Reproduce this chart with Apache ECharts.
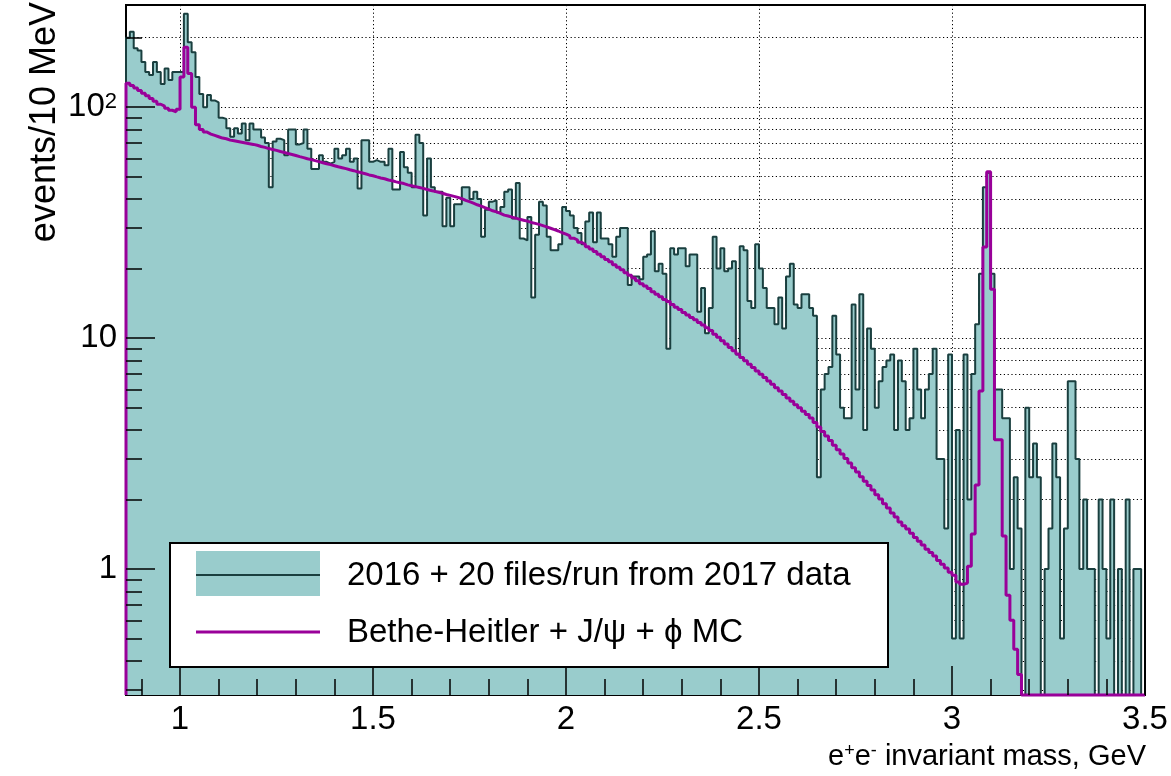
<!DOCTYPE html>
<html><head><meta charset="utf-8">
<script src="https://cdn.jsdelivr.net/npm/echarts@6/dist/echarts.min.js"></script>
<style>html,body{margin:0;padding:0;background:#fff}#c{width:1171px;height:776px}</style>
</head><body><div id="c"></div>
<script>
// ---- axis ranges / binning ----
const BIN_START = 0.86, BIN_WIDTH = 0.01;
const X_MIN = 0.86, X_MAX = 3.5;
const Y_MIN = 0.285, Y_MAX = 277;

// ---- ticks & labels ----
const xMajorTicks = [1, 1.5, 2, 2.5, 3, 3.5];
const xTickLabels = ['1', '1.5', '2', '2.5', '3', '3.5'];
const xMinorTicks = [0.9, 1.1, 1.2, 1.3, 1.4, 1.6, 1.7, 1.8, 1.9, 2.1, 2.2, 2.3, 2.4, 2.6, 2.7, 2.8, 2.9, 3.1, 3.2, 3.3, 3.4];
const yMajorTicks = [1, 10, 100];
const yTickLabels = ['1', '10', '10^2'];
const yMinorTicks = [0.3, 0.4, 0.5, 0.6, 0.7, 0.8, 0.9, 2, 3, 4, 5, 6, 7, 8, 9, 20, 30, 40, 50, 60, 70, 80, 90, 200];
const xSplitValues = [1, 1.5, 2, 2.5, 3];

// ---- data: events / 10 MeV, bins from 0.86 GeV ----
const dataCounts = [
  200, 212, 180, 176, 157, 142, 138, 157, 142, 126,
  147, 131, 142, 142, 142, 254, 191, 173, 135, 114,
  100, 113, 107, 105, 90, 89, 81, 74.5, 81, 77,
  85, 72, 85, 80, 80, 74, 70, 45, 71, 73,
  72, 62, 80, 80, 69, 70, 80, 66, 54, 54,
  62, 58, 57, 58, 66, 60, 62, 66, 58, 60,
  44.5, 72, 72, 58, 59, 58, 58, 56, 66, 44,
  44, 64, 55, 52, 45, 76, 70, 34, 60, 45,
  43, 43, 30.5, 40.5, 30.5, 38, 38, 45, 45, 40,
  43, 40, 27.5, 36, 39, 39.5, 35, 37, 43, 44,
  33, 47, 27, 26.5, 33.5, 15, 28, 39, 37.5, 27.5,
  24, 24, 25.5, 37, 35.5, 34, 30, 28.5, 25.5, 32,
  35, 26, 35, 27, 27, 25.5, 22.5, 27.5, 30, 30,
  17, 18.5, 18.5, 18, 22.5, 23, 29, 19.5, 21, 19,
  9, 24.5, 23, 24.5, 24.5, 20.5, 23, 23, 13, 16.5,
  10.5, 13.5, 27.5, 20, 24.5, 19.5, 20, 21.5, 8.5, 25,
  24, 14.5, 13.5, 25.5, 20, 16.5, 13.5, 13.5, 11.5, 15,
  11, 18.5, 21, 14, 13.5, 15.5, 15.5, 13.5, 12.5, 2.5,
  6, 7, 7.5, 12.5, 8.5, 5, 4.5, 4.5, 14, 6,
  15.5, 4, 11, 9, 5, 6.5, 7.5, 8, 8.5, 4,
  8, 6.5, 4, 4.5, 9, 6, 4.5, 6, 7, 9,
  3, 3, 1.5, 8.5, 0.5, 4, 0.5, 8.5, 2, 7,
  11.5, 19, 45, 52, 19, 6, 6, 4.5, 4.5, 1,
  2.5, 1.5, 0, 5, 2.5, 3.5, 2.5, 0, 1, 1.5,
  3.5, 2.5, 0.5, 1.5, 6.5, 6.5, 3, 1, 2, 1,
  1, 0, 2, 1, 0.5, 2, 0, 1, 0, 2,
  0, 1, 1, 0
];

// ---- MC: Bethe-Heitler + J/psi + phi ----
const mcCounts = [
  127, 124, 121, 118, 115, 112, 109, 106, 103, 101,
  99, 97, 95.5, 98, 135, 182, 140, 100, 84, 80,
  78, 76.5, 75.5, 74.5, 73.5, 73, 72, 71.5, 71, 70.5,
  70, 69.5, 69, 68.4, 67.6, 67, 66.2, 65.6, 65, 64.3,
  63.7, 63, 62.4, 61.8, 61.1, 60.5, 59.8, 59.3, 58.7, 58.1,
  57.5, 56.9, 56.4, 55.8, 55.2, 54.7, 54.2, 53.6, 53.1, 52.5,
  52, 51.5, 50.9, 50.5, 49.9, 49.4, 49, 48.4, 48, 47.5,
  47.1, 46.7, 46.1, 45.7, 45.3, 44.9, 44.5, 44, 43.6, 43.2,
  42.8, 42.4, 41.9, 41.5, 41.1, 40.7, 40.2, 39.5, 39, 38.4,
  37.8, 37.3, 36.7, 36.2, 35.6, 35.2, 34.7, 34.1, 33.8, 33.4,
  33.1, 32.7, 32.4, 32.1, 31.7, 31.4, 31.1, 30.7, 30.3, 29.9,
  29.5, 29.1, 28.6, 28.2, 27.7, 27.1, 26.6, 26, 25.5, 24.9,
  24.3, 23.7, 23.1, 22.5, 21.9, 21.4, 20.8, 20.3, 19.8, 19.2,
  18.7, 18.2, 17.7, 17.2, 16.8, 16.4, 15.9, 15.5, 15.1, 14.7,
  14.4, 14, 13.6, 13.3, 12.9, 12.6, 12.3, 12, 11.7, 11.4,
  11.1, 10.8, 10.4, 10.1, 9.75, 9.44, 9.12, 8.81, 8.53, 8.24,
  7.98, 7.71, 7.46, 7.21, 6.97, 6.75, 6.52, 6.31, 6.1, 5.9,
  5.7, 5.51, 5.33, 5.15, 4.99, 4.82, 4.67, 4.51, 4.31, 4.12,
  3.94, 3.77, 3.6, 3.44, 3.29, 3.15, 3.01, 2.88, 2.75, 2.63,
  2.51, 2.4, 2.3, 2.2, 2.1, 2.01, 1.92, 1.84, 1.75, 1.68,
  1.6, 1.54, 1.49, 1.43, 1.37, 1.32, 1.27, 1.22, 1.18, 1.14,
  1.09, 1.05, 1.01, 0.97, 0.94, 0.88, 0.86, 0.87, 1.03, 1.42,
  2.31, 5.9, 24.8, 52.5, 16.3, 3.63, 3.63, 1.39, 0.77, 0.6,
  0.45, 0.35, 0, 0, 0, 0, 0, 0, 0, 0,
  0, 0, 0, 0, 0, 0, 0, 0, 0, 0,
  0, 0, 0, 0, 0, 0, 0, 0, 0, 0,
  0, 0, 0, 0
];

const seriesNames = ['2016 + 20 files/run from 2017 data', 'Bethe-Heitler + J/\u03C8 + \u03D5 MC'];

// histogram outline points (bin edges), empty bins sit on the axis floor like ROOT
function histSteps(vals) {
  const pts = [[BIN_START, Y_MIN]];
  vals.forEach((v, i) => {
    const y = Math.max(v, Y_MIN);
    const x0 = +(BIN_START + i * BIN_WIDTH).toFixed(4);
    const x1 = +(BIN_START + (i + 1) * BIN_WIDTH).toFixed(4);
    pts.push([x0, y], [x1, y]);
  });
  pts.push([+(BIN_START + vals.length * BIN_WIDTH).toFixed(4), Y_MIN]);
  return pts;
}

const FONT = 'Liberation Sans, Arial, Helvetica, sans-serif';
const FILL = '#99cccc', OUTLINE = '#1a3f3f', MAGENTA = '#990099';
const GL = 126, GT = 5, GW = 1019, GH = 690;

const chart = echarts.init(document.getElementById('c'), null, {renderer: 'canvas'});

const baseX = {type: 'value', min: X_MIN, max: X_MAX, position: 'bottom', splitLine: {show: false}, axisLine: {show: false}, axisLabel: {show: false}, axisTick: {show: false}};
const baseY = {type: 'log', logBase: 10, min: Y_MIN, max: Y_MAX, position: 'left', splitLine: {show: false}, axisLine: {show: false}, axisLabel: {show: false}, axisTick: {show: false}};

const yLabelMap = {};
yMajorTicks.forEach((v, i) => { yLabelMap[v] = yTickLabels[i]; });
const xLabelMap = {};
xMajorTicks.forEach((v, i) => { xLabelMap[v] = xTickLabels[i]; });

chart.setOption({
  animation: false,
  backgroundColor: '#fff',
  textStyle: {fontFamily: FONT},
  grid: {left: GL, top: GT, width: GW, height: GH, show: true, borderColor: '#000', borderWidth: 2, backgroundColor: 'transparent'},
  xAxis: [
    Object.assign({}, baseX, {
      z: 0,
      axisTick: {show: false, customValues: xSplitValues},
      splitLine: {show: true, lineStyle: {color: '#000', width: 1, type: [1.2, 2.6]}}
    }),
    Object.assign({}, baseX, {
      z: 10,
      axisTick: {show: true, inside: true, length: 29, lineStyle: {color: '#000', width: 1.5}, customValues: xMajorTicks},
      axisLabel: {show: true, customValues: xMajorTicks, margin: 8, fontSize: 33, color: '#000', fontFamily: FONT,
        formatter: v => xLabelMap[v] !== undefined ? xLabelMap[v] : ''}
    }),
    Object.assign({}, baseX, {
      z: 10,
      axisTick: {show: true, inside: true, length: 16, lineStyle: {color: '#000', width: 1.5}, customValues: xMinorTicks}
    })
  ],
  yAxis: [
    Object.assign({}, baseY, {
      z: 0,
      axisTick: {show: false, customValues: yMinorTicks.concat(yMajorTicks)},
      splitLine: {show: true, lineStyle: {color: '#000', width: 1, type: [1.2, 2.6]}}
    }),
    Object.assign({}, baseY, {
      z: 10,
      axisTick: {show: true, inside: true, length: 29, lineStyle: {color: '#000', width: 1.5}, customValues: yMajorTicks},
      axisLabel: {show: true, customValues: yMajorTicks, margin: 9, fontSize: 33, color: '#000', fontFamily: FONT,
        formatter: v => {
          const t = yLabelMap[v];
          if (t === undefined) return '';
          const m = t.split('^');
          return m.length === 2 ? '{b|' + m[0] + '}{s|' + m[1] + '}' : '{b|' + t + '}';
        },
        rich: {b: {fontSize: 33, fontFamily: FONT, color: '#000'}, s: {fontSize: 22, fontFamily: FONT, color: '#000', verticalAlign: 'top'}}
      }
    }),
    Object.assign({}, baseY, {
      z: 10,
      axisTick: {show: true, inside: true, length: 16, lineStyle: {color: '#000', width: 1.5}, customValues: yMinorTicks}
    })
  ],
  series: [
    {
      name: seriesNames[0], type: 'line', xAxisIndex: 0, yAxisIndex: 0,
      data: histSteps(dataCounts), showSymbol: false, symbol: 'none', clip: false, z: 2,
      lineStyle: {color: OUTLINE, width: 2}, itemStyle: {color: OUTLINE},
      areaStyle: {color: FILL, opacity: 1, origin: 'start'}
    },
    {
      name: seriesNames[1], type: 'line', xAxisIndex: 0, yAxisIndex: 0,
      data: histSteps(mcCounts), showSymbol: false, symbol: 'none', clip: false, z: 3,
      lineStyle: {color: MAGENTA, width: 3}, itemStyle: {color: MAGENTA}
    }
  ],
  graphic: [
    {type: 'rect', z: 100, shape: {x: 170, y: 543, width: 718, height: 124}, style: {fill: '#fff', stroke: '#000', lineWidth: 2}},
    {type: 'rect', z: 101, shape: {x: 196, y: 551, width: 124, height: 45}, style: {fill: FILL}},
    {type: 'line', z: 102, shape: {x1: 196, y1: 575, x2: 320, y2: 575}, style: {stroke: OUTLINE, lineWidth: 2}},
    {type: 'text', z: 102, x: 347, y: 576, style: {text: seriesNames[0], font: '33px ' + FONT, fill: '#000', textVerticalAlign: 'middle', textAlign: 'left'}},
    {type: 'line', z: 102, shape: {x1: 196, y1: 632, x2: 320, y2: 632}, style: {stroke: MAGENTA, lineWidth: 3}},
    {type: 'text', z: 102, x: 347, y: 633, style: {text: seriesNames[1], font: '33px ' + FONT, fill: '#000', textVerticalAlign: 'middle', textAlign: 'left'}},
    {type: 'text', z: 102, x: 45, y: 2, rotation: Math.PI / 2,
      style: {text: 'events/10 MeV', font: '36px ' + FONT, fill: '#000', textAlign: 'right', textVerticalAlign: 'middle'}},
    {type: 'text', z: 102, x: 1146, y: 757,
      style: {text: '{n|e}{s|+}{n|e}{s|-}{n| invariant mass, GeV}', textAlign: 'right', textVerticalAlign: 'middle',
        rich: {n: {fontSize: 29, fontFamily: FONT, fill: '#000', color: '#000'}, s: {fontSize: 18, fontFamily: FONT, fill: '#000', color: '#000', verticalAlign: 'top'}}}}
  ]
});
</script>
</body></html>
